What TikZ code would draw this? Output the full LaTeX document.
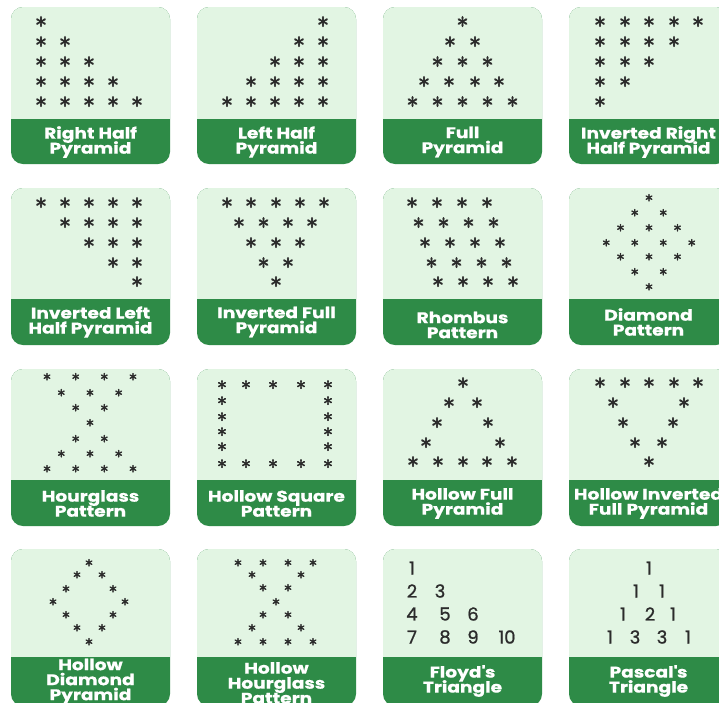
\documentclass[tikz,border=0pt]{standalone}
\usepackage{fontspec}
\newfontfamily\labfont{Poppins}[FakeStretch=1.2, FakeBold=0.6]
\newfontfamily\numfont{Poppins}[FakeBold=1]
\newfontfamily\astfont{latinmodern-math.otf}[FakeBold=2.5]
\definecolor{ltg}{HTML}{E2F5E3}
\definecolor{dkg}{HTML}{2E8B47}
\definecolor{ink}{HTML}{2B2B2B}
\newcommand\labsetup{\labfont\bfseries\fontsize{15.5}{15}\selectfont
  \setlength{\lineskiplimit}{-20pt}\setlength{\lineskip}{0pt}}
\newcommand\Card[5]{%
  \fill[dkg, rounded corners=12pt] (#1,#2) rectangle (#1+159,#2+157);
  \begin{scope}
    \clip (#1,#2) rectangle (#1+159,#3);
    \fill[ltg, rounded corners=12pt] (#1,#2) rectangle (#1+159,#2+157);
  \end{scope}
  \node[lab] at (#1+79.5,#4) {#5};}
\newcommand\Row[3]{\foreach \xx in {#2} {\node[#1] at (\xx,#3) {∗};}}
\begin{document}
\begin{tikzpicture}[x=1pt,y=-1pt,
  ast/.style={inner sep=0pt, text=ink, font=\astfont\fontsize{24}{24}\selectfont},
  mast/.style={inner sep=0pt, text=ink, font=\astfont\fontsize{20}{20}\selectfont},
  sast/.style={inner sep=0pt, text=ink, font=\astfont\fontsize{17}{17}\selectfont},
  num/.style={inner sep=0pt, text=ink, font=\numfont\fontsize{18}{18}\selectfont},
  lab/.style={inner sep=0pt, text=white, align=center, font=\labsetup}]
\useasboundingbox (0,0) rectangle (719,702);
\fill[white] (0,0) rectangle (719,702);
\clip (0,0) rectangle (719,702);
% ---- row 1
\Card{11}{7}{118}{142}{Right Half\\Pyramid}
\Card{197}{7}{118}{142}{Left Half\\Pyramid}
\Card{383}{7}{118}{142}{Full\\Pyramid}
\Card{569}{7}{118}{142}{Inverted Right\\Half Pyramid}
% ---- row 2
\Card{11}{188}{298}{322}{Inverted Left\\Half Pyramid}
\Card{197}{188}{298}{322}{Inverted Full\\Pyramid}
\Card{383}{188}{298}{325}{Rhombus\\Pattern}
\Card{569}{188}{298}{322}{Diamond\\Pattern}
% ---- row 3
\Card{11}{369}{479}{503.5}{Hourglass\\Pattern}
\Card{197}{369}{479}{503.5}{Hollow Square\\Pattern}
\Card{383}{369}{479}{503.5}{Hollow Full\\Pyramid}
\Card{569}{369}{479}{503.5}{Hollow Inverted\\Full Pyramid}
% ---- row 4
\Card{11}{549}{656}{681.5}{Hollow\\Diamond\\Pyramid}
\Card{197}{549}{656}{683}{Hollow\\Hourglass\\Pattern}
\Card{383}{549}{656}{681}{Floyd\textquotesingle s\\Triangle}
\Card{569}{549}{656}{681}{Pascal\textquotesingle s\\Triangle}
% ===== stars row 1
\Row{ast}{41}{22}
\Row{ast}{41,65}{42}
\Row{ast}{41,65,89}{62}
\Row{ast}{41,65,89,113}{82}
\Row{ast}{41,65,89,113,137}{102}
%
\Row{ast}{323}{22}
\Row{ast}{299,323}{42}
\Row{ast}{275,299,323}{62}
\Row{ast}{251,275,299,323}{82}
\Row{ast}{227,251,275,299,323}{102}
%
\Row{ast}{462.5}{22}
\Row{ast}{450,475}{42}
\Row{ast}{437.5,462.5,487.5}{62}
\Row{ast}{424,449,475,499}{82}
\Row{ast}{412.5,437.5,462.5,487.5,512.5}{102}
%
\Row{ast}{600,625,649,674,698}{22}
\Row{ast}{600,625,649,674}{42}
\Row{ast}{600,625,649}{62}
\Row{ast}{600,625}{82}
\Row{ast}{600}{102}
% ===== stars row 2
\Row{ast}{41,65,89,113,137}{203}
\Row{ast}{65,89,113,137}{223}
\Row{ast}{89,113,137}{243}
\Row{ast}{113,137}{263}
\Row{ast}{137}{282}
%
\Row{ast}{227,251,276,300,324}{203}
\Row{ast}{239,263.5,288,312}{223}
\Row{ast}{251,276,300}{243}
\Row{ast}{263.5,288}{263}
\Row{ast}{276}{282}
%
\Row{ast}{412,437,462,487}{203}
\Row{ast}{418.5,443.5,468.5,493.5}{223}
\Row{ast}{425,450,475,500}{243}
\Row{ast}{431.5,456.5,481.5,506.5}{263}
\Row{ast}{438,463,488,513}{282}
%
\Row{sast}{649}{198}
\Row{sast}{634.75,663.25}{213}
\Row{sast}{620.5,649,677.5}{228}
\Row{sast}{606.25,634.75,663.25,691.75}{243}
\Row{sast}{620.5,649,677.5}{257}
\Row{sast}{634.75,663.25}{272}
\Row{sast}{649}{287}
% ===== stars row 3
\Row{sast}{47,75.7,104.3,133}{377}
\Row{sast}{61.3,90,118.7}{393}
\Row{sast}{75.7,104.3}{408}
\Row{sast}{90}{423}
\Row{sast}{75.7,104.3}{439}
\Row{sast}{61.3,90,118.7}{454}
\Row{sast}{47,75.7,104.3,133}{469}
%
\Row{mast}{222,246,273,301,328}{385}
\Row{mast}{222,328}{401}
\Row{mast}{222,328}{417}
\Row{mast}{222,328}{432}
\Row{mast}{222,328}{447}
\Row{mast}{222,246,273,301,328}{464}
%
\Row{ast}{463}{383}
\Row{ast}{449,477}{403}
\Row{ast}{437,488}{423}
\Row{ast}{426,500}{443}
\Row{ast}{413,438,463,487,512}{462}
%
\Row{ast}{600,625,649,674,698}{383}
\Row{ast}{613,684}{403}
\Row{ast}{623,673}{423}
\Row{ast}{635,662}{443}
\Row{ast}{649}{462}
% ===== stars row 4
\Row{sast}{89}{563}
\Row{sast}{77,102}{575}
\Row{sast}{66,113}{589}
\Row{sast}{53,125}{602}
\Row{sast}{66,113}{615}
\Row{sast}{77,102}{628}
\Row{sast}{89}{642}
%
\Row{sast}{238,263,288,313}{563}
\Row{sast}{252,301}{575}
\Row{sast}{263,288}{588}
\Row{sast}{276}{602}
\Row{sast}{263,288}{615}
\Row{sast}{252,301}{628}
\Row{sast}{238,263,288,313}{642}
% ===== Floyd
\node[num] (f1) at (412,568) {1};
\node[num] (f2) at (412,591) {2};
\node[num] (f3) at (440,591) {3};
\node[num] (f4) at (412,614) {4};
\node[num] (f5) at (445,614) {5};
\node[num] (f6) at (473,614) {6};
\node[num] (f7) at (412,637) {7};
\node[num] (f8) at (445,637) {8};
\node[num] (f9) at (473,637) {9};
\node[num] (f10) at (507,637) {10};
% ===== Pascal
\node[num] (p1) at (649,568) {1};
\node[num] (p2) at (636,591) {1};
\node[num] (p3) at (662,591) {1};
\node[num] (p4) at (623,614) {1};
\node[num] (p5) at (650,614) {2};
\node[num] (p6) at (673,614) {1};
\node[num] (p7) at (610,637) {1};
\node[num] (p8) at (635,637) {3};
\node[num] (p9) at (662,637) {3};
\node[num] (p10) at (688,637) {1};
\end{tikzpicture}
\end{document}
